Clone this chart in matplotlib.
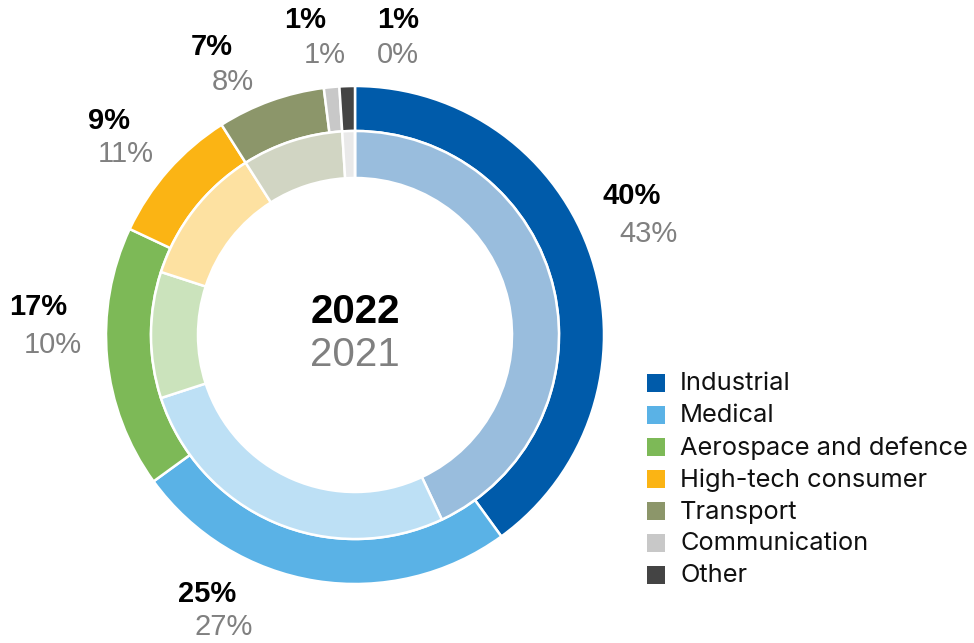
import matplotlib.pyplot as plt
import matplotlib.colors as mcolors
import numpy as np

categories = ["Industrial", "Medical", "Aerospace and defence", "High-tech consumer",
              "Transport", "Communication", "Other"]
share_2022 = [40, 25, 17, 9, 7, 1, 1]
share_2021 = [43, 27, 10, 11, 8, 1, 0]
colors = ["#005BAA", "#5AB2E6", "#7DB957", "#FBB414", "#8C966A", "#C8C8C8", "#444444"]

# label anchors (x, y of the bold 2022 value) in pixel space, y measured from top
label_pos = [(632, 196), (207, 594), (38, 307), (109, 121), (212, 47), (305, 20), (398, 20)]
label_shift = [(16, 38), (17, 33), (15, 38), (17, 33), (21, 35), (20, 35), (0, 35)]

W, H = 974, 643
cx, cy = 355, H - 335
r_out, r_mid, r_in = 249, 204, 157


def lighten(c, a=0.4):
    rgb = np.array(mcolors.to_rgb(c))
    return tuple(a * rgb + (1 - a))


fig = plt.figure(figsize=(W / 100, H / 100), dpi=100)
ax = fig.add_axes([0, 0, 1, 1])

ax.pie(share_2022, colors=colors, radius=r_out, center=(cx, cy), startangle=90,
       counterclock=False, normalize=True, frame=True,
       wedgeprops=dict(width=r_out - r_mid, edgecolor="white", linewidth=1.8))
ax.pie(share_2021, colors=[lighten(c) for c in colors], radius=r_mid, center=(cx, cy),
       startangle=90, counterclock=False, normalize=True, frame=True,
       wedgeprops=dict(width=r_mid - r_in, edgecolor="white", linewidth=1.8))
ax.set_xlim(0, W)
ax.set_ylim(0, H)
ax.set_aspect("equal")
ax.axis("off")

for (x, y), (dx, dy), v22, v21 in zip(label_pos, label_shift, share_2022, share_2021):
    ax.text(x, H - y, f"{v22}%", ha="center", va="center", fontsize=21,
            fontweight="bold", family="Liberation Sans", color="black")
    ax.text(x + dx, H - y - dy, f"{v21}%", ha="center", va="center", fontsize=21,
            family="Liberation Sans", color="#808080")

ax.text(cx, H - 312, "2022", ha="center", va="center", fontsize=29,
        fontweight="bold", family="Liberation Sans", color="black")
ax.text(cx, H - 355, "2021", ha="center", va="center", fontsize=29,
        family="Liberation Sans", color="#808080")

# legend
for i, (name, c) in enumerate(zip(categories, colors)):
    y = H - (383 + 32 * i)
    ax.scatter([656], [y], marker="s", s=150, color=c, linewidths=0)
    ax.text(680, y - 1, name, ha="left", va="center", fontsize=18.3, family="Inter",
            color="#111111")

fig.savefig("out.png", dpi=100)
